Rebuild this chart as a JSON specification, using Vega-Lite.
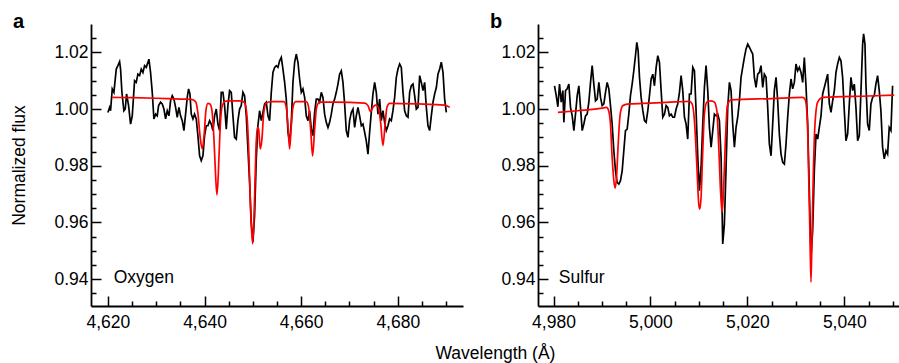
{
"$schema": "https://vega.github.io/schema/vega-lite/v6.json",
"background": "white",
"padding": {"left": 10, "top": 12, "right": 0, "bottom": 0},
"config": {
  "font": "Liberation Sans",
  "view": {"stroke": null},
  "axis": {"grid": false, "domainColor": "black", "domainWidth": 1.8, "tickColor": "black", "tickWidth": 1.5, "labelColor": "black", "labelFontSize": 17.5, "titleFontSize": 17.5, "titleFontWeight": "normal", "titleColor": "black", "labelOverlap": false, "labelFlush": false},
  "title": {"color": "black"}
},
"title": {"text": "Wavelength (Å)", "orient": "bottom", "anchor": "middle", "fontSize": 17.5, "fontWeight": "normal", "offset": 14, "dx": 40},
"spacing": 75,
"bounds": "flush",
"datasets": {
"oxObs": [{"w":4620.00,"f":0.9988},{"w":4620.35,"f":1.0006},{"w":4620.55,"f":0.9994},{"w":4620.90,"f":1.0071},{"w":4621.24,"f":1.0059},{"w":4621.73,"f":1.0141},{"w":4622.07,"f":1.0153},{"w":4622.42,"f":1.0167},{"w":4622.62,"f":1.0141},{"w":4622.90,"f":1.0059},{"w":4623.31,"f":0.9994},{"w":4623.59,"f":1.0000},{"w":4623.86,"f":1.0053},{"w":4624.28,"f":1.0012},{"w":4624.69,"f":0.9947},{"w":4625.04,"f":0.9976},{"w":4625.52,"f":1.0100},{"w":4625.87,"f":1.0094},{"w":4626.21,"f":1.0123},{"w":4626.56,"f":1.0118},{"w":4626.90,"f":1.0141},{"w":4627.25,"f":1.0129},{"w":4627.59,"f":1.0153},{"w":4627.94,"f":1.0147},{"w":4628.49,"f":1.0176},{"w":4628.83,"f":1.0129},{"w":4629.18,"f":1.0059},{"w":4629.52,"f":0.9965},{"w":4629.87,"f":0.9982},{"w":4630.21,"f":0.9976},{"w":4630.49,"f":1.0012},{"w":4630.90,"f":1.0024},{"w":4631.25,"f":1.0018},{"w":4631.59,"f":1.0000},{"w":4631.94,"f":0.9965},{"w":4632.28,"f":0.9994},{"w":4632.63,"f":0.9976},{"w":4632.97,"f":1.0029},{"w":4633.32,"f":1.0047},{"w":4633.66,"f":1.0035},{"w":4634.01,"f":1.0006},{"w":4634.35,"f":0.9971},{"w":4634.70,"f":1.0006},{"w":4635.04,"f":0.9976},{"w":4635.39,"f":0.9959},{"w":4635.73,"f":0.9924},{"w":4636.08,"f":0.9982},{"w":4636.42,"f":1.0041},{"w":4636.70,"f":1.0071},{"w":4636.98,"f":1.0053},{"w":4637.25,"f":0.9982},{"w":4637.60,"f":0.9965},{"w":4637.94,"f":0.9982},{"w":4638.29,"f":0.9965},{"w":4638.63,"f":0.9906},{"w":4638.98,"f":0.9835},{"w":4639.32,"f":0.9818},{"w":4639.67,"f":0.9835},{"w":4640.01,"f":0.9906},{"w":4640.36,"f":0.9941},{"w":4640.70,"f":0.9941},{"w":4641.05,"f":0.9959},{"w":4641.39,"f":0.9947},{"w":4641.74,"f":0.9924},{"w":4642.08,"f":0.9976},{"w":4642.43,"f":1.0000},{"w":4642.77,"f":0.9947},{"w":4643.12,"f":0.9924},{"w":4643.46,"f":1.0059},{"w":4643.81,"f":1.0059},{"w":4644.15,"f":1.0012},{"w":4644.50,"f":0.9929},{"w":4644.84,"f":1.0012},{"w":4645.19,"f":1.0065},{"w":4645.53,"f":1.0059},{"w":4645.88,"f":0.9976},{"w":4646.22,"f":0.9900},{"w":4646.57,"f":0.9894},{"w":4646.91,"f":0.9959},{"w":4647.26,"f":1.0000},{"w":4647.60,"f":1.0012},{"w":4647.95,"f":1.0059},{"w":4648.29,"f":1.0047},{"w":4648.64,"f":0.9976},{"w":4648.98,"f":0.9859},{"w":4649.33,"f":0.9741},{"w":4649.67,"f":0.9600},{"w":4650.02,"f":0.9530},{"w":4650.36,"f":0.9624},{"w":4650.71,"f":0.9824},{"w":4651.05,"f":0.9941},{"w":4651.40,"f":0.9994},{"w":4651.75,"f":0.9959},{"w":4652.44,"f":1.0018},{"w":4652.78,"f":1.0024},{"w":4653.13,"f":0.9976},{"w":4653.47,"f":0.9959},{"w":4653.82,"f":1.0059},{"w":4654.16,"f":1.0129},{"w":4654.51,"f":1.0147},{"w":4654.85,"f":1.0153},{"w":4655.20,"f":1.0147},{"w":4655.54,"f":1.0170},{"w":4655.89,"f":1.0182},{"w":4656.23,"f":1.0141},{"w":4656.58,"f":1.0094},{"w":4656.92,"f":1.0035},{"w":4657.27,"f":0.9918},{"w":4657.61,"f":0.9882},{"w":4657.96,"f":0.9953},{"w":4658.30,"f":1.0094},{"w":4658.65,"f":1.0165},{"w":4658.99,"f":1.0194},{"w":4659.34,"f":1.0165},{"w":4659.68,"f":1.0106},{"w":4660.03,"f":1.0059},{"w":4660.37,"f":1.0071},{"w":4660.72,"f":1.0041},{"w":4661.06,"f":0.9976},{"w":4661.41,"f":0.9959},{"w":4661.75,"f":0.9994},{"w":4662.10,"f":0.9929},{"w":4662.44,"f":0.9906},{"w":4662.79,"f":0.9988},{"w":4663.13,"f":1.0035},{"w":4663.48,"f":1.0035},{"w":4663.82,"f":1.0024},{"w":4664.17,"f":1.0059},{"w":4664.51,"f":1.0041},{"w":4664.86,"f":0.9982},{"w":4665.20,"f":0.9953},{"w":4665.55,"f":0.9935},{"w":4665.89,"f":0.9953},{"w":4666.24,"f":0.9982},{"w":4666.58,"f":1.0018},{"w":4666.93,"f":1.0035},{"w":4667.27,"f":1.0059},{"w":4667.62,"f":1.0088},{"w":4667.96,"f":1.0123},{"w":4668.31,"f":1.0135},{"w":4668.65,"f":1.0094},{"w":4669.00,"f":1.0018},{"w":4669.34,"f":0.9924},{"w":4669.69,"f":0.9900},{"w":4670.03,"f":0.9959},{"w":4670.38,"f":0.9988},{"w":4670.72,"f":1.0000},{"w":4671.07,"f":0.9935},{"w":4671.41,"f":0.9976},{"w":4671.76,"f":1.0006},{"w":4672.10,"f":0.9976},{"w":4672.45,"f":0.9941},{"w":4672.79,"f":0.9947},{"w":4673.14,"f":0.9918},{"w":4673.48,"f":0.9888},{"w":4673.83,"f":0.9841},{"w":4674.17,"f":0.9918},{"w":4674.52,"f":0.9988},{"w":4674.86,"f":1.0053},{"w":4675.21,"f":1.0094},{"w":4675.55,"f":1.0059},{"w":4675.90,"f":0.9982},{"w":4676.24,"f":1.0035},{"w":4676.59,"f":0.9959},{"w":4676.93,"f":0.9994},{"w":4677.28,"f":0.9953},{"w":4677.62,"f":0.9924},{"w":4677.97,"f":0.9941},{"w":4678.31,"f":0.9965},{"w":4678.66,"f":0.9959},{"w":4679.00,"f":0.9994},{"w":4679.35,"f":1.0041},{"w":4679.70,"f":1.0112},{"w":4680.04,"f":1.0141},{"w":4680.39,"f":1.0159},{"w":4680.73,"f":1.0147},{"w":4681.08,"f":1.0059},{"w":4681.42,"f":0.9994},{"w":4681.77,"f":0.9976},{"w":4682.11,"f":0.9971},{"w":4682.46,"f":1.0059},{"w":4682.80,"f":1.0082},{"w":4683.15,"f":1.0088},{"w":4683.49,"f":1.0047},{"w":4683.84,"f":1.0000},{"w":4684.18,"f":1.0006},{"w":4684.53,"f":1.0118},{"w":4684.87,"f":1.0094},{"w":4685.22,"f":1.0065},{"w":4685.56,"f":1.0094},{"w":4685.91,"f":1.0006},{"w":4686.25,"f":0.9941},{"w":4686.60,"f":0.9924},{"w":4686.94,"f":0.9976},{"w":4687.29,"f":1.0024},{"w":4687.63,"f":1.0053},{"w":4687.98,"f":1.0076},{"w":4688.32,"f":1.0123},{"w":4688.67,"f":1.0141},{"w":4689.01,"f":1.0165},{"w":4689.36,"f":1.0129},{"w":4689.70,"f":1.0035},{"w":4690.05,"f":0.9988}],
"oxModel": [{"w":4620.90,"f":1.0041},{"w":4625,"f":1.0040},{"w":4630,"f":1.0038},{"w":4635,"f":1.0035},{"w":4637.25,"f":1.0034},{"w":4638.15,"f":1.0026},{"w":4638.63,"f":0.9985},{"w":4639.10,"f":0.9900},{"w":4639.53,"f":0.9859},{"w":4639.95,"f":0.9915},{"w":4640.29,"f":0.9995},{"w":4640.70,"f":1.0020},{"w":4641.12,"f":1.0018},{"w":4641.53,"f":0.9995},{"w":4641.95,"f":0.9894},{"w":4642.29,"f":0.9765},{"w":4642.57,"f":0.9697},{"w":4642.84,"f":0.9765},{"w":4643.19,"f":0.9918},{"w":4643.60,"f":1.0006},{"w":4644.15,"f":1.0026},{"w":4644.84,"f":1.0029},{"w":4647.60,"f":1.0029},{"w":4648.29,"f":1.0022},{"w":4648.78,"f":0.9976},{"w":4649.19,"f":0.9835},{"w":4649.53,"f":0.9647},{"w":4649.95,"f":0.9524},{"w":4650.29,"f":0.9647},{"w":4650.64,"f":0.9859},{"w":4650.92,"f":0.9935},{"w":4651.19,"f":0.9929},{"w":4651.54,"f":0.9859},{"w":4651.88,"f":0.9894},{"w":4652.23,"f":0.9982},{"w":4652.78,"f":1.0021},{"w":4653.82,"f":1.0026},{"w":4656.44,"f":1.0026},{"w":4656.92,"f":1.0006},{"w":4657.27,"f":0.9941},{"w":4657.61,"f":0.9859},{"w":4657.96,"f":0.9941},{"w":4658.30,"f":1.0006},{"w":4658.85,"f":1.0026},{"w":4661.06,"f":1.0026},{"w":4661.55,"f":1.0006},{"w":4661.96,"f":0.9929},{"w":4662.37,"f":0.9835},{"w":4662.79,"f":0.9929},{"w":4663.20,"f":1.0006},{"w":4663.82,"f":1.0024},{"w":4666.93,"f":1.0024},{"w":4673.14,"f":1.0021},{"w":4673.83,"f":1.0012},{"w":4674.38,"f":0.9991},{"w":4674.86,"f":1.0006},{"w":4675.35,"f":1.0014},{"w":4675.90,"f":1.0009},{"w":4676.45,"f":0.9953},{"w":4676.93,"f":0.9871},{"w":4677.35,"f":0.9941},{"w":4677.76,"f":1.0006},{"w":4678.31,"f":1.0020},{"w":4684.18,"f":1.0018},{"w":4689.70,"f":1.0014},{"w":4690.74,"f":1.0006}],
"sObs": [{"w":4980.21,"f":1.0082},{"w":4980.56,"f":1.0047},{"w":4980.90,"f":1.0008},{"w":4981.24,"f":1.0088},{"w":4981.59,"f":1.0024},{"w":4981.93,"f":1.0065},{"w":4982.14,"f":0.9953},{"w":4982.48,"f":1.0065},{"w":4982.82,"f":1.0071},{"w":4983.17,"f":1.0088},{"w":4983.51,"f":1.0006},{"w":4983.86,"f":0.9976},{"w":4984.20,"f":0.9924},{"w":4984.54,"f":0.9982},{"w":4984.89,"f":1.0047},{"w":4985.23,"f":1.0082},{"w":4985.57,"f":1.0006},{"w":4985.92,"f":0.9924},{"w":4986.26,"f":0.9947},{"w":4986.61,"f":0.9976},{"w":4986.95,"f":0.9982},{"w":4987.29,"f":1.0024},{"w":4987.64,"f":1.0094},{"w":4987.98,"f":1.0153},{"w":4988.32,"f":1.0088},{"w":4988.67,"f":1.0029},{"w":4989.01,"f":1.0035},{"w":4989.36,"f":1.0094},{"w":4989.70,"f":1.0041},{"w":4990.04,"f":1.0012},{"w":4990.39,"f":1.0018},{"w":4990.73,"f":1.0059},{"w":4991.07,"f":1.0094},{"w":4991.42,"f":1.0071},{"w":4991.76,"f":1.0012},{"w":4992.10,"f":0.9947},{"w":4992.45,"f":0.9853},{"w":4992.79,"f":0.9782},{"w":4993.13,"f":0.9741},{"w":4993.48,"f":0.9735},{"w":4993.82,"f":0.9747},{"w":4994.17,"f":0.9782},{"w":4994.51,"f":0.9853},{"w":4994.85,"f":0.9924},{"w":4995.20,"f":0.9929},{"w":4995.54,"f":0.9982},{"w":4995.88,"f":1.0047},{"w":4996.23,"f":1.0088},{"w":4996.57,"f":1.0135},{"w":4996.91,"f":1.0188},{"w":4997.19,"f":1.0235},{"w":4997.46,"f":1.0206},{"w":4997.74,"f":1.0112},{"w":4998.08,"f":1.0041},{"w":4998.43,"f":0.9994},{"w":4998.77,"f":0.9959},{"w":4999.11,"f":0.9953},{"w":4999.46,"f":0.9994},{"w":4999.80,"f":1.0047},{"w":5000.15,"f":1.0106},{"w":5000.49,"f":1.0123},{"w":5000.83,"f":1.0082},{"w":5001.18,"f":1.0147},{"w":5001.52,"f":1.0188},{"w":5001.86,"f":1.0165},{"w":5002.21,"f":1.0065},{"w":5002.55,"f":0.9971},{"w":5002.89,"f":0.9982},{"w":5003.24,"f":1.0012},{"w":5003.58,"f":1.0006},{"w":5003.92,"f":0.9976},{"w":5004.27,"f":0.9982},{"w":5004.61,"f":0.9971},{"w":5004.96,"f":0.9971},{"w":5005.30,"f":1.0000},{"w":5005.64,"f":1.0018},{"w":5005.99,"f":1.0059},{"w":5006.33,"f":1.0118},{"w":5006.67,"f":1.0065},{"w":5007.02,"f":0.9971},{"w":5007.36,"f":0.9947},{"w":5007.70,"f":0.9894},{"w":5008.05,"f":1.0053},{"w":5008.39,"f":1.0053},{"w":5008.74,"f":1.0147},{"w":5009.08,"f":1.0135},{"w":5009.42,"f":0.9994},{"w":5009.77,"f":0.9830},{"w":5010.11,"f":0.9712},{"w":5010.45,"f":0.9794},{"w":5010.80,"f":0.9947},{"w":5011.14,"f":1.0076},{"w":5011.48,"f":1.0153},{"w":5011.83,"f":1.0065},{"w":5012.17,"f":0.9935},{"w":5012.52,"f":0.9865},{"w":5012.86,"f":0.9924},{"w":5013.20,"f":0.9982},{"w":5013.55,"f":0.9976},{"w":5013.89,"f":0.9982},{"w":5014.23,"f":0.9959},{"w":5014.58,"f":0.9830},{"w":5014.92,"f":0.9524},{"w":5015.26,"f":0.9594},{"w":5015.61,"f":0.9794},{"w":5015.95,"f":1.0006},{"w":5016.30,"f":1.0094},{"w":5016.64,"f":1.0065},{"w":5016.98,"f":0.9947},{"w":5017.33,"f":0.9865},{"w":5017.67,"f":0.9935},{"w":5018.01,"f":0.9971},{"w":5018.36,"f":1.0029},{"w":5018.70,"f":1.0112},{"w":5019.04,"f":1.0147},{"w":5019.39,"f":1.0182},{"w":5019.73,"f":1.0212},{"w":5020.08,"f":1.0229},{"w":5020.42,"f":1.0218},{"w":5020.76,"f":1.0206},{"w":5021.11,"f":1.0194},{"w":5021.45,"f":1.0112},{"w":5021.79,"f":1.0076},{"w":5022.14,"f":1.0123},{"w":5022.48,"f":1.0129},{"w":5022.82,"f":1.0153},{"w":5023.17,"f":1.0076},{"w":5023.51,"f":1.0123},{"w":5023.86,"f":1.0112},{"w":5024.20,"f":1.0006},{"w":5024.54,"f":0.9877},{"w":5024.89,"f":0.9835},{"w":5025.23,"f":0.9947},{"w":5025.57,"f":1.0065},{"w":5025.92,"f":1.0112},{"w":5026.26,"f":1.0029},{"w":5026.60,"f":0.9912},{"w":5026.95,"f":0.9841},{"w":5027.29,"f":0.9812},{"w":5027.64,"f":0.9806},{"w":5027.98,"f":0.9877},{"w":5028.32,"f":0.9971},{"w":5028.67,"f":1.0053},{"w":5029.01,"f":1.0106},{"w":5029.35,"f":1.0071},{"w":5029.70,"f":1.0094},{"w":5030.04,"f":1.0159},{"w":5030.38,"f":1.0135},{"w":5030.73,"f":1.0147},{"w":5031.07,"f":1.0129},{"w":5031.42,"f":1.0094},{"w":5031.76,"f":1.0182},{"w":5032.10,"f":1.0082},{"w":5032.45,"f":0.9947},{"w":5032.79,"f":0.9712},{"w":5033.13,"f":0.9477},{"w":5033.48,"f":0.9571},{"w":5033.82,"f":0.9782},{"w":5034.17,"f":0.9912},{"w":5034.51,"f":0.9894},{"w":5034.85,"f":0.9935},{"w":5035.20,"f":0.9976},{"w":5035.54,"f":1.0053},{"w":5035.88,"f":1.0076},{"w":5036.23,"f":1.0100},{"w":5036.57,"f":1.0123},{"w":5036.92,"f":1.0018},{"w":5037.26,"f":0.9988},{"w":5037.60,"f":1.0029},{"w":5037.95,"f":1.0065},{"w":5038.29,"f":1.0129},{"w":5038.63,"f":1.0159},{"w":5038.98,"f":1.0182},{"w":5039.32,"f":1.0170},{"w":5039.66,"f":1.0112},{"w":5040.01,"f":0.9994},{"w":5040.35,"f":0.9888},{"w":5040.70,"f":0.9912},{"w":5041.04,"f":1.0018},{"w":5041.38,"f":1.0112},{"w":5041.73,"f":1.0065},{"w":5042.07,"f":1.0088},{"w":5042.41,"f":1.0006},{"w":5042.76,"f":0.9888},{"w":5043.10,"f":0.9906},{"w":5043.45,"f":1.0065},{"w":5043.79,"f":1.0229},{"w":5043.99,"f":1.0265},{"w":5044.27,"f":1.0229},{"w":5044.47,"f":1.0088},{"w":5044.82,"f":0.9947},{"w":5045.16,"f":0.9924},{"w":5045.50,"f":1.0018},{"w":5045.85,"f":1.0041},{"w":5046.19,"f":1.0047},{"w":5046.53,"f":1.0088},{"w":5046.88,"f":1.0118},{"w":5047.22,"f":1.0065},{"w":5047.56,"f":0.9994},{"w":5047.91,"f":0.9865},{"w":5048.25,"f":0.9824},{"w":5048.60,"f":0.9853},{"w":5048.94,"f":0.9841},{"w":5049.28,"f":0.9935},{"w":5049.63,"f":0.9924},{"w":5049.97,"f":1.0082}],
"sModel": [{"w":4980.90,"f":0.9988},{"w":4985,"f":0.9994},{"w":4990,"f":1.0003},{"w":4990.87,"f":1.0006},{"w":4991.20,"f":1.0002},{"w":4991.70,"f":0.9959},{"w":4992.10,"f":0.9830},{"w":4992.45,"f":0.9747},{"w":4992.72,"f":0.9721},{"w":4993.00,"f":0.9759},{"w":4993.35,"f":0.9877},{"w":4993.76,"f":0.9982},{"w":4994.30,"f":1.0012},{"w":4995.68,"f":1.0018},{"w":5000,"f":1.0021},{"w":5005,"f":1.0025},{"w":5008.05,"f":1.0027},{"w":5008.60,"f":1.0018},{"w":5009.08,"f":0.9959},{"w":5009.56,"f":0.9806},{"w":5009.97,"f":0.9665},{"w":5010.18,"f":0.9647},{"w":5010.45,"f":0.9688},{"w":5010.80,"f":0.9853},{"w":5011.14,"f":0.9982},{"w":5011.62,"f":1.0024},{"w":5012.52,"f":1.0029},{"w":5013.20,"f":1.0024},{"w":5013.70,"f":0.9994},{"w":5014.10,"f":0.9865},{"w":5014.50,"f":0.9700},{"w":5014.80,"f":0.9635},{"w":5015.05,"f":0.9700},{"w":5015.47,"f":0.9888},{"w":5015.88,"f":1.0012},{"w":5016.64,"f":1.0032},{"w":5025,"f":1.0037},{"w":5031.42,"f":1.0041},{"w":5031.96,"f":1.0032},{"w":5032.38,"f":0.9959},{"w":5032.65,"f":0.9771},{"w":5032.93,"f":0.9547},{"w":5033.13,"f":0.9389},{"w":5033.34,"f":0.9547},{"w":5033.61,"f":0.9771},{"w":5033.96,"f":0.9947},{"w":5034.51,"f":1.0024},{"w":5035.54,"f":1.0041},{"w":5045,"f":1.0046},{"w":5050.30,"f":1.0049}],
"labA": [{"label": "Oxygen"}],
"labB": [{"label": "Sulfur"}]
},
"hconcat": [
{
  "width": 372, "height": 282,
  "title": {"text": "a", "anchor": "start", "frame": "bounds", "fontSize": 20, "fontWeight": "bold", "baseline": "alphabetic", "offset": -24, "dx": 2},
  "resolve": {"scale": {"x": "independent", "y": "independent"}},
  "layer": [
    {"data": {"name": "oxObs"}, "mark": {"type": "line", "color": "black", "strokeWidth": 1.7},
     "encoding": {
       "x": {"field": "w", "type": "quantitative", "scale": {"domain": [4616.5, 4693.5], "nice": false, "zero": false},
             "axis": {"orient": "bottom", "title": null, "values": [4620,4640,4660,4680], "labelExpr": "format(datum.value, ',')", "tickSize": -10, "labelPadding": 17.5, "labelOverlap": false}},
       "y": {"field": "f", "type": "quantitative", "scale": {"domain": [0.9305, 1.03], "nice": false, "zero": false},
             "axis": {"orient": "left", "title": "Normalized flux", "titlePadding": 25, "values": [0.94,0.96,0.98,1.0,1.02], "format": ".2f", "tickSize": -10, "labelPadding": 13, "labelOverlap": false}}
     }},
    {"data": {"name": "oxModel"}, "mark": {"type": "line", "color": "#ff0000", "strokeWidth": 1.7, "interpolate": "monotone"},
     "encoding": {
       "x": {"field": "w", "type": "quantitative", "scale": {"domain": [4616.5, 4693.5], "nice": false, "zero": false},
             "axis": {"orient": "bottom", "title": null, "values": [4625,4630,4635,4645,4650,4655,4665,4670,4675,4685,4690], "labels": false, "domain": false, "tickSize": -5}},
       "y": {"field": "f", "type": "quantitative", "scale": {"domain": [0.9305, 1.03], "nice": false, "zero": false},
             "axis": {"orient": "left", "title": null, "values": [0.935,0.945,0.95,0.955,0.965,0.97,0.975,0.985,0.99,0.995,1.005,1.01,1.015,1.025], "labels": false, "domain": false, "tickSize": -5}}
     }},
    {"data": {"name": "labA"}, "mark": {"type": "text", "align": "left", "baseline": "middle", "fontSize": 17.5, "color": "black"},
     "encoding": {
       "x": {"datum": 4621.2, "type": "quantitative", "scale": {"domain": [4616.5, 4693.5], "nice": false, "zero": false}, "axis": null},
       "y": {"datum": 0.9405, "type": "quantitative", "scale": {"domain": [0.9305, 1.03], "nice": false, "zero": false}, "axis": null},
       "text": {"field": "label"}}}
  ]
},
{
  "width": 362, "height": 282,
  "title": {"text": "b", "anchor": "start", "frame": "bounds", "fontSize": 20, "fontWeight": "bold", "baseline": "alphabetic", "offset": -24, "dx": -11},
  "resolve": {"scale": {"x": "independent", "y": "independent"}},
  "layer": [
    {"data": {"name": "sObs"}, "mark": {"type": "line", "color": "black", "strokeWidth": 1.7},
     "encoding": {
       "x": {"field": "w", "type": "quantitative", "scale": {"domain": [4976.8, 5051.5], "nice": false, "zero": false},
             "axis": {"orient": "bottom", "title": null, "values": [4980,5000,5020,5040], "labelExpr": "format(datum.value, ',')", "tickSize": -10, "labelPadding": 17.5, "labelOverlap": false}},
       "y": {"field": "f", "type": "quantitative", "scale": {"domain": [0.9305, 1.03], "nice": false, "zero": false},
             "axis": {"orient": "left", "title": null, "values": [0.94,0.96,0.98,1.0,1.02], "format": ".2f", "tickSize": -10, "labelPadding": 13, "labelOverlap": false}}
     }},
    {"data": {"name": "sModel"}, "mark": {"type": "line", "color": "#ff0000", "strokeWidth": 1.7, "interpolate": "monotone"},
     "encoding": {
       "x": {"field": "w", "type": "quantitative", "scale": {"domain": [4976.8, 5051.5], "nice": false, "zero": false},
             "axis": {"orient": "bottom", "title": null, "values": [4985,4990,4995,5005,5010,5015,5025,5030,5035,5045,5050], "labels": false, "domain": false, "tickSize": -5}},
       "y": {"field": "f", "type": "quantitative", "scale": {"domain": [0.9305, 1.03], "nice": false, "zero": false},
             "axis": {"orient": "left", "title": null, "values": [0.935,0.945,0.95,0.955,0.965,0.97,0.975,0.985,0.99,0.995,1.005,1.01,1.015,1.025], "labels": false, "domain": false, "tickSize": -5}}
     }},
    {"data": {"name": "labB"}, "mark": {"type": "text", "align": "left", "baseline": "middle", "fontSize": 17.5, "color": "black"},
     "encoding": {
       "x": {"datum": 4981.1, "type": "quantitative", "scale": {"domain": [4976.8, 5051.5], "nice": false, "zero": false}, "axis": null},
       "y": {"datum": 0.9405, "type": "quantitative", "scale": {"domain": [0.9305, 1.03], "nice": false, "zero": false}, "axis": null},
       "text": {"field": "label"}}}
  ]
}
]
}
